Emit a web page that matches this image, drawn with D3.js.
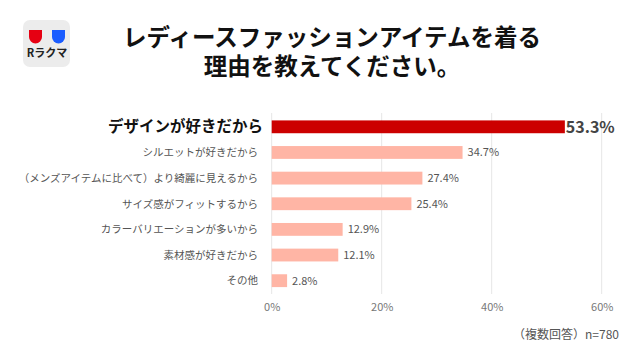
<!DOCTYPE html>
<html><head><meta charset="utf-8">
<script src="https://cdn.jsdelivr.net/npm/d3@7"></script>
<style>
html,body{margin:0;padding:0;background:#fff;}
svg{display:block;font-family:"Noto Sans CJK JP","Noto Sans",sans-serif;}
</style></head>
<body><svg id="c" width="640" height="360"></svg>
<script>
const titleLines = ["レディースファッションアイテムを着る", "理由を教えてください。"];
const categories = ["デザインが好きだから", "シルエットが好きだから", "（メンズアイテムに比べて）より綺麗に見えるから", "サイズ感がフィットするから", "カラーバリエーションが多いから", "素材感が好きだから", "その他"];
const values = [53.3, 34.7, 27.4, 25.4, 12.9, 12.1, 2.8];
const tickValues = [0, 20, 40, 60];
const note = "（複数回答）n=780";

const svg = d3.select("#c");

// logo
const logo = svg.append("g");
logo.append("rect").attr("x", 23).attr("y", 20).attr("width", 47).attr("height", 47).attr("rx", 7).attr("fill", "#ececec");
function shield(x, color) {
  logo.append("path").attr("d", `M${x},30 h13 v7 a6.5,6.5 0 0 1 -13,0 z`).attr("fill", color);
}
shield(29, "#e60012");
shield(52, "#1a5cff");
logo.append("text").attr("x", 47).attr("y", 57).attr("text-anchor", "middle")
  .attr("font-size", 11).attr("font-weight", "bold").attr("fill", "#222").text("Rラクマ");

// title
svg.append("g").selectAll("text").data(titleLines).join("text")
  .attr("x", 332).attr("y", (d, i) => 46 + i * 28.5)
  .attr("text-anchor", "middle").attr("font-size", 23.5).attr("font-weight", "bold").attr("fill", "#111")
  .text(d => d);

const x = d3.scaleLinear().domain([0, 60]).range([271.7, 601.7]);
const y = d3.scaleBand().domain(categories).range([114, 293.5]).paddingInner(0.5).paddingOuter(0.25);

// grid
svg.append("g").selectAll("line").data(tickValues).join("line")
  .attr("x1", d => x(d)).attr("x2", d => x(d)).attr("y1", 113).attr("y2", 294)
  .attr("stroke", "#e6e6e6").attr("stroke-width", 1);

// axis labels
const ax = svg.append("g").attr("transform", "translate(0,295)")
  .call(d3.axisBottom(x).tickValues(tickValues).tickFormat(d => d + "%").tickSize(0).tickPadding(8));
ax.select(".domain").remove();
ax.selectAll("text").attr("font-size", 11).attr("fill", "#777").attr("font-family", "\"Noto Sans CJK JP\",sans-serif");

// bars
svg.append("g").selectAll("rect").data(values).join("rect")
  .attr("x", x(0)).attr("y", (d, i) => y(categories[i]))
  .attr("width", d => x(d) - x(0)).attr("height", y.bandwidth())
  .attr("fill", (d, i) => i === 0 ? "#cc0000" : "#ffb5a5");

// category labels
svg.append("g").selectAll("text").data(categories).join("text")
  .attr("x", (d, i) => i === 0 ? 263 : 258)
  .attr("y", d => y(d) + y.bandwidth() / 2)
  .attr("dy", "0.36em").attr("text-anchor", "end")
  .attr("font-size", (d, i) => i === 0 ? 15.5 : 10.5)
  .attr("font-weight", (d, i) => i === 0 ? "bold" : "normal")
  .attr("fill", (d, i) => i === 0 ? "#111" : "#555")
  .text(d => d);

// value labels
svg.append("g").selectAll("text").data(values).join("text")
  .attr("x", (d, i) => x(d) + (i === 0 ? 1 : 5))
  .attr("y", (d, i) => y(categories[i]) + y.bandwidth() / 2)
  .attr("dy", "0.36em")
  .attr("font-size", (d, i) => i === 0 ? 16 : 11)
  .attr("font-weight", (d, i) => i === 0 ? "bold" : "normal")
  .attr("fill", (d, i) => i === 0 ? "#444" : "#555")
  .text(d => d.toFixed(1) + "%");

// note
svg.append("text").attr("x", 619).attr("y", 339).attr("text-anchor", "end")
  .attr("font-size", 12).attr("fill", "#555").text(note);
</script></body></html>
